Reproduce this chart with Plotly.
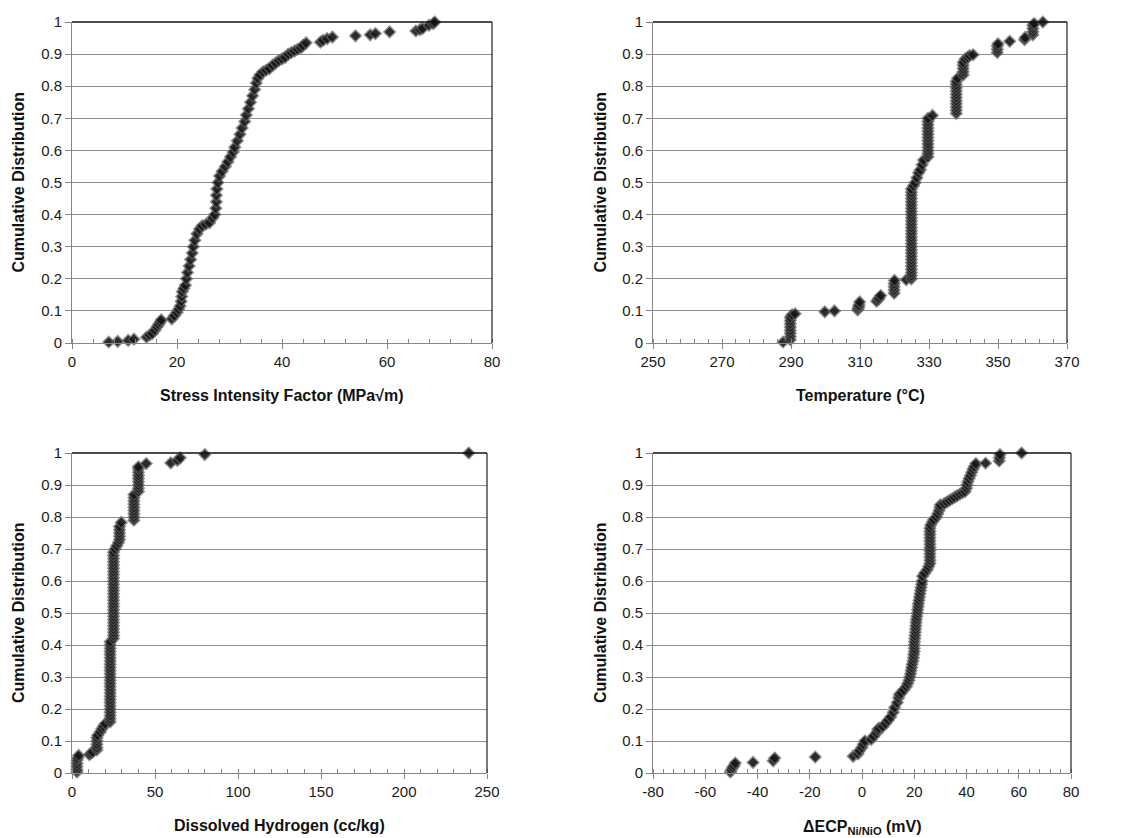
import plotly.graph_objects as go

# ---------------- data ----------------
sif_x = [7.0, 8.7, 10.7, 11.8, 14.2, 14.8, 15.3, 15.8, 16.2, 16.5,
         16.8, 17.0, 19.0, 19.5, 20.0, 20.3, 20.6, 20.8, 20.9, 21.0,
         21.3, 21.6, 21.8, 22.0, 22.3, 22.6, 22.9, 23.1, 23.4, 23.8,
         24.3, 24.8, 25.5, 26.2, 26.8, 27.2, 27.4, 27.5, 27.5, 27.6,
         27.8, 28.1, 28.6, 29.2, 29.7, 30.2, 30.7, 31.0, 31.5, 32.0,
         32.4, 32.9, 33.2, 33.6, 34.0, 34.4, 34.8, 35.1, 35.4, 35.8,
         36.4, 37.0, 37.6, 38.2, 38.8, 39.4, 40.0, 40.6, 41.2, 41.8,
         42.4, 43.0, 43.6, 44.0, 44.6, 47.3, 47.8, 48.6, 49.6, 54.0,
         56.8, 57.8, 60.5, 65.5, 66.3, 66.8, 68.0, 68.8, 69.1]
sif_y = [0.003, 0.005, 0.008, 0.012, 0.018, 0.025, 0.030, 0.040, 0.050, 0.058,
         0.065, 0.072, 0.075, 0.085, 0.095, 0.105, 0.115, 0.130, 0.145, 0.160,
         0.170, 0.180, 0.200, 0.220, 0.240, 0.260, 0.280, 0.300, 0.320, 0.340,
         0.355, 0.365, 0.370, 0.375, 0.390, 0.400, 0.420, 0.440, 0.460, 0.480,
         0.500, 0.520, 0.535, 0.550, 0.565, 0.580, 0.595, 0.610, 0.630, 0.650,
         0.670, 0.690, 0.710, 0.730, 0.750, 0.770, 0.790, 0.810, 0.825, 0.835,
         0.845, 0.850, 0.855, 0.865, 0.872, 0.880, 0.885, 0.890, 0.900, 0.905,
         0.910, 0.915, 0.920, 0.927, 0.935, 0.937, 0.943, 0.948, 0.953, 0.957,
         0.960, 0.964, 0.969, 0.972, 0.976, 0.980, 0.990, 0.995, 1.000]

temp_x = [287.7,
          289.8, 289.8, 289.8, 289.8, 289.8, 289.8, 289.8, 289.8, 290.3, 291.2,
          299.8, 302.6,
          309.3, 309.5, 309.6, 309.7, 309.9,
          314.8, 315.3, 315.6, 316.0,
          319.9, 319.9, 319.9, 319.9, 320.0,
          323.4,
          324.9, 324.9, 324.9, 324.9, 324.9, 324.9, 324.9, 324.9, 324.9, 324.9,
          324.9, 324.9, 324.9, 324.9, 324.9, 324.9, 324.9, 324.9, 324.9, 324.9,
          324.9, 324.9, 324.9, 324.9, 324.9, 324.9, 324.9, 324.9, 324.9,
          325.5, 326.0, 326.5, 327.0, 327.5, 328.0, 328.4,
          329.7, 329.7, 329.7, 329.7, 329.7, 329.7, 329.7, 329.7, 329.7, 329.7,
          329.7, 329.7, 329.7,
          331.0,
          337.9, 337.9, 337.9, 337.9, 337.9, 337.9, 337.9, 337.9, 337.9, 337.9,
          337.9, 338.3,
          339.9, 339.9, 339.9, 339.9, 339.9, 340.5, 341.2, 341.8,
          342.8,
          349.8, 349.8, 349.8, 350.0,
          353.4,
          357.7, 357.9,
          360.1, 360.1, 360.1, 360.1, 360.5,
          363.0]
temp_y = [0.003,
          0.010, 0.020, 0.030, 0.040, 0.050, 0.060, 0.070, 0.080, 0.088, 0.091,
          0.097, 0.100,
          0.103, 0.108, 0.113, 0.118, 0.128,
          0.130, 0.136, 0.141, 0.148,
          0.155, 0.165, 0.175, 0.185, 0.195,
          0.197,
          0.200, 0.210, 0.220, 0.230, 0.240, 0.250, 0.260, 0.270, 0.280, 0.290,
          0.300, 0.310, 0.320, 0.330, 0.340, 0.350, 0.360, 0.370, 0.380, 0.390,
          0.400, 0.410, 0.420, 0.430, 0.440, 0.450, 0.460, 0.470, 0.480,
          0.490, 0.500, 0.515, 0.530, 0.540, 0.555, 0.570,
          0.580, 0.590, 0.600, 0.610, 0.620, 0.630, 0.640, 0.650, 0.660, 0.670,
          0.680, 0.690, 0.700,
          0.709,
          0.715, 0.725, 0.735, 0.745, 0.755, 0.765, 0.775, 0.785, 0.795, 0.805,
          0.815, 0.825,
          0.835, 0.845, 0.855, 0.865, 0.875, 0.885, 0.890, 0.895,
          0.898,
          0.905, 0.915, 0.925, 0.932,
          0.940,
          0.945, 0.952,
          0.960, 0.970, 0.980, 0.990, 0.995,
          1.000]

h2_x = [3.0, 3.0, 3.0, 3.0, 3.0, 3.5, 4.0,
        10.5, 11.5, 12.5,
        15.0, 15.0, 15.0, 15.0, 15.0, 15.5,
        17.0, 18.0, 19.0, 20.0,
        23.0, 23.0, 23.0, 23.0, 23.0, 23.0, 23.0, 23.0, 23.0, 23.0,
        23.0, 23.0, 23.0, 23.0, 23.0, 23.0, 23.0, 23.0, 23.0, 23.0,
        23.0, 23.0, 23.0, 23.0, 23.0, 23.0,
        25.0, 25.0, 25.0, 25.0, 25.0, 25.0, 25.0, 25.0, 25.0, 25.0,
        25.0, 25.0, 25.0, 25.0, 25.0, 25.0, 25.0, 25.0, 25.0, 25.0,
        25.0, 25.0, 25.0, 25.0, 25.0, 25.0, 25.0, 25.0,
        26.0, 27.0, 28.0,
        28.6, 28.6, 28.6, 28.6, 28.6, 29.7,
        37.3, 37.3, 37.3, 37.3, 37.3, 37.3, 37.3, 37.3, 37.3,
        40.0, 40.0, 40.0, 40.0, 40.0, 40.0, 40.0, 40.0, 40.0,
        44.7,
        59.5, 63.5, 65.2,
        80.0,
        239.0]
h2_y = [0.003, 0.010, 0.020, 0.030, 0.040, 0.047, 0.055,
        0.057, 0.062, 0.066,
        0.072, 0.080, 0.090, 0.100, 0.110, 0.118,
        0.128, 0.138, 0.146, 0.154,
        0.160, 0.170, 0.180, 0.190, 0.200, 0.210, 0.220, 0.230, 0.240, 0.250,
        0.260, 0.270, 0.280, 0.290, 0.300, 0.310, 0.320, 0.330, 0.340, 0.350,
        0.360, 0.370, 0.380, 0.390, 0.400, 0.410,
        0.420, 0.430, 0.440, 0.450, 0.460, 0.470, 0.480, 0.490, 0.500, 0.510,
        0.520, 0.530, 0.540, 0.550, 0.560, 0.570, 0.580, 0.590, 0.600, 0.610,
        0.620, 0.630, 0.640, 0.650, 0.660, 0.670, 0.680, 0.690,
        0.700, 0.710, 0.720,
        0.730, 0.740, 0.750, 0.760, 0.770, 0.783,
        0.790, 0.800, 0.810, 0.820, 0.830, 0.840, 0.850, 0.860, 0.870,
        0.880, 0.890, 0.900, 0.910, 0.920, 0.930, 0.940, 0.950, 0.957,
        0.967,
        0.969, 0.977, 0.985,
        0.995,
        1.000]

ecp_x = [-50.4, -50.0, -49.5, -49.0, -48.5,
         -41.7,
         -34.0, -33.4,
         -17.9,
         -3.4,
         -1.5, -1.0, 0.0, 0.5, 1.1,
         3.5, 4.5, 5.6, 6.0, 6.5,
         8.0, 9.0, 10.0, 11.0, 12.0, 12.5, 13.5, 14.0, 14.3,
         15.0, 16.0, 17.0, 17.5, 18.0, 18.3, 18.6, 18.8, 19.0, 19.2,
         19.5, 19.7, 19.8, 20.0, 20.0, 20.0, 20.1, 20.2, 20.3, 20.4,
         20.5, 20.6, 20.7, 20.8, 21.0, 21.2, 21.3, 21.5, 21.6, 21.8,
         22.0, 22.2, 22.4, 22.6, 22.8, 23.0, 23.2,
         24.0, 25.0, 25.5, 26.0, 26.0, 26.0, 26.0, 26.0, 26.0, 26.0,
         26.0, 26.0, 26.0, 26.0, 26.0, 26.3, 27.0, 27.5,
         28.5, 29.0, 29.5, 29.8, 30.0,
         31.5, 32.5, 33.5, 34.5, 35.5, 36.5, 37.5, 38.5, 39.5,
         40.0, 40.2, 40.5, 41.0, 41.5, 42.0, 42.5, 43.0, 43.6,
         47.3,
         52.5, 52.6, 52.8,
         61.1]
ecp_y = [0.003, 0.010, 0.017, 0.023, 0.031,
         0.033,
         0.038, 0.047,
         0.050,
         0.052,
         0.060, 0.070, 0.080, 0.090, 0.100,
         0.105, 0.115, 0.125, 0.135, 0.140,
         0.145, 0.155, 0.165, 0.175, 0.190, 0.205, 0.220, 0.235, 0.245,
         0.250, 0.260, 0.270, 0.280, 0.290, 0.300, 0.310, 0.320, 0.330, 0.340,
         0.350, 0.360, 0.370, 0.380, 0.390, 0.400, 0.410, 0.420, 0.430, 0.440,
         0.450, 0.460, 0.470, 0.480, 0.490, 0.500, 0.510, 0.520, 0.530, 0.540,
         0.550, 0.560, 0.570, 0.580, 0.590, 0.600, 0.615,
         0.625, 0.635, 0.645, 0.655, 0.665, 0.675, 0.685, 0.695, 0.705, 0.715,
         0.725, 0.735, 0.745, 0.755, 0.765, 0.775, 0.785, 0.792,
         0.800, 0.810, 0.820, 0.830, 0.838,
         0.842, 0.847, 0.852, 0.857, 0.862, 0.867, 0.872, 0.876, 0.880,
         0.890, 0.900, 0.910, 0.920, 0.930, 0.940, 0.950, 0.958, 0.967,
         0.968,
         0.975, 0.985, 0.995,
         1.000]

y_title = "Cumulative Distribution"
x_titles = ["Stress Intensity Factor (MPa√m)", "Temperature (°C)",
            "Dissolved Hydrogen (cc/kg)", "ΔECP<sub>Ni/NiO</sub> (mV)"]
x_ranges = [[0, 80], [250, 370], [0, 250], [-80, 80]]
x_tickvals = [[0, 20, 40, 60, 80],
              [250, 270, 290, 310, 330, 350, 370],
              [0, 50, 100, 150, 200, 250],
              [-80, -60, -40, -20, 0, 20, 40, 60, 80]]
x_ticktext = [["0", "20", "40", "60", "80"],
              ["250", "270", "290", "310", "330", "350", "370"],
              ["0", "50", "100", "150", "200", "250"],
              ["-80", "-60", "-40", "-20", "0", "20", "40", "60", "80"]]
x_minor = [4, 4, 10, 4]
y_tickvals = [0, 0.1, 0.2, 0.3, 0.4, 0.5, 0.6, 0.7, 0.8, 0.9, 1]
y_ticktext = ["0", "0.1", "0.2", "0.3", "0.4", "0.5", "0.6", "0.7", "0.8", "0.9", "1"]

# ---------------- style ----------------
W, H = 1123, 838
FONT = "Liberation Sans, Arial, sans-serif"
GRAY = "#5f5f5f"
BLACK = "#000000"
AXIS = "#868686"
GRID = "#8e8e8e"

# plot-area boxes in pixels: (left, right, top, bottom)
boxes = [(72, 492, 22, 343), (653, 1067, 22, 343),
         (72, 487, 453, 773), (653, 1071, 453, 773)]
ytitle_px = [18, 600, 18, 600]
xtitle_py = [395, 395, 825, 827]

series = [(sif_x, sif_y), (temp_x, temp_y), (h2_x, h2_y), (ecp_x, ecp_y)]
for sx, sy in series:
    assert len(sx) == len(sy)

fig = go.Figure()
annotations = []
shapes = []
for i, ((sx, sy), (l, r, t, b)) in enumerate(zip(series, boxes)):
    n = "" if i == 0 else str(i + 1)
    xa, ya = "xaxis" + n, "yaxis" + n
    xr, yr = "x" + n, "y" + n
    # interleave a gray "shadow" diamond and a black diamond for each point
    X, Y, S, C = [], [], [], []
    for xv, yv in zip(sx, sy):
        X += [xv, xv]
        Y += [yv, yv]
        S += [10.5, 7.5]
        C += [GRAY, BLACK]
    fig.add_trace(go.Scatter(
        x=X, y=Y, mode="markers", xaxis=xr, yaxis=yr, cliponaxis=False,
        marker=dict(symbol="diamond", size=S, color=C, line=dict(width=0)),
        showlegend=False, hoverinfo="skip"))
    fig.layout[xa] = dict(
        domain=[l / W, r / W], anchor=yr, range=x_ranges[i],
        tickmode="array", tickvals=x_tickvals[i], ticktext=x_ticktext[i],
        showgrid=False, zeroline=False, showline=True, linecolor=AXIS, linewidth=1,
        ticks="outside", ticklen=5, tickcolor=AXIS, tickwidth=1,
        minor=dict(tickmode="linear", dtick=x_minor[i], tick0=x_ranges[i][0],
                   ticks="inside", ticklen=4, tickcolor=AXIS, tickwidth=1,
                   showgrid=False),
        tickfont=dict(family=FONT, size=15, color="#1a1a1a"),
        automargin=False, fixedrange=True)
    fig.layout[ya] = dict(
        domain=[1 - b / H, 1 - t / H], anchor=xr, range=[0, 1],
        tickmode="array", tickvals=y_tickvals, ticktext=y_ticktext,
        showgrid=True, gridcolor=GRID, gridwidth=1,
        zeroline=False, showline=True, linecolor=AXIS, linewidth=1,
        ticks="outside", ticklen=6, tickcolor=AXIS, tickwidth=1,
        tickfont=dict(family=FONT, size=15, color="#1a1a1a"),
        automargin=False, fixedrange=True)
    # dark top and right border of the plot area
    shapes.append(dict(type="line", xref="paper", yref="paper",
                       x0=l / W, x1=r / W, y0=1 - t / H, y1=1 - t / H,
                       layer="above", line=dict(color="#111111", width=1.5)))
    shapes.append(dict(type="line", xref="paper", yref="paper",
                       x0=r / W, x1=r / W, y0=1 - b / H, y1=1 - t / H,
                       layer="above", line=dict(color="#222222", width=1.2)))
    # axis titles
    annotations.append(dict(
        text="<b>" + x_titles[i] + "</b>", xref="paper", yref="paper",
        x=(l + r) / 2 / W, y=1 - xtitle_py[i] / H, xanchor="center", yanchor="middle",
        showarrow=False, font=dict(family=FONT, size=16, color="#111111")))
    annotations.append(dict(
        text="<b>" + y_title + "</b>", xref="paper", yref="paper",
        x=ytitle_px[i] / W, y=1 - (t + b) / 2 / H, xanchor="center", yanchor="middle",
        textangle=-90, showarrow=False, font=dict(family=FONT, size=16, color="#111111")))

fig.update_layout(
    width=W, height=H, margin=dict(l=0, r=0, t=0, b=0),
    paper_bgcolor="white", plot_bgcolor="white",
    annotations=annotations, shapes=shapes, showlegend=False)

fig.write_html("out.html")
